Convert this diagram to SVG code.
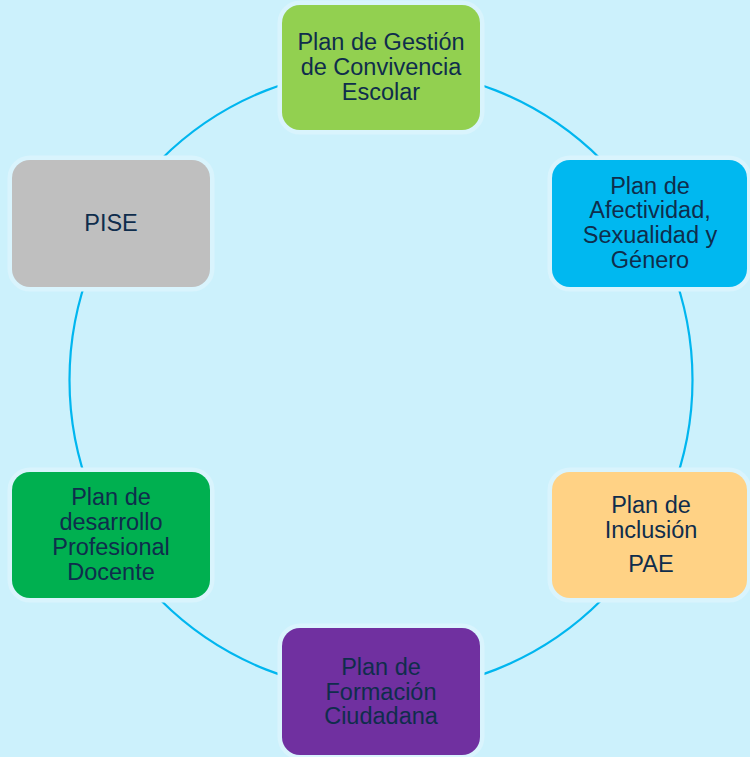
<svg xmlns="http://www.w3.org/2000/svg" width="750" height="757" viewBox="0 0 750 757">
<style>
.halo{stroke:#d9f4fd;stroke-width:9;paint-order:stroke}
.t{font-family:"Liberation Sans",Arial,sans-serif;font-size:23.5px;fill:#0f2d4c;text-anchor:middle}
</style>
<rect x="0" y="0" width="750" height="757" fill="#ccf1fc"/>
<g id="connectors">
<circle cx="381" cy="380" r="311.5" fill="none" stroke="#00b6ef" stroke-width="2.2"/>
</g>
<g id="convivencia">
<rect class="halo" x="282" y="5" width="198" height="125" rx="18" fill="#92d050"/>
<text class="t" x="381" y="50">Plan de Gestión</text>
<text class="t" x="381" y="75">de Convivencia</text>
<text class="t" x="381" y="100">Escolar</text>
</g>
<g id="afectividad">
<rect class="halo" x="552" y="160" width="195" height="127" rx="18" fill="#00b8f0"/>
<text class="t" x="650" y="194">Plan de</text>
<text class="t" x="650" y="218">Afectividad,</text>
<text class="t" x="650" y="243">Sexualidad y</text>
<text class="t" x="650" y="268">Género</text>
</g>
<g id="pise">
<rect class="halo" x="12" y="160" width="198" height="127" rx="18" fill="#bfbfbf"/>
<text class="t" x="111" y="231">PISE</text>
</g>
<g id="inclusion">
<rect class="halo" x="552" y="472" width="195" height="126" rx="18" fill="#ffd285"/>
<text class="t" x="651" y="513">Plan de</text>
<text class="t" x="651" y="538">Inclusión</text>
<text class="t" x="651" y="572">PAE</text>
</g>
<g id="docente">
<rect class="halo" x="12" y="472" width="198" height="126" rx="18" fill="#00b050"/>
<text class="t" x="111" y="505">Plan de</text>
<text class="t" x="111" y="530">desarrollo</text>
<text class="t" x="111" y="555">Profesional</text>
<text class="t" x="111" y="580">Docente</text>
</g>
<g id="ciudadana">
<rect class="halo" x="282" y="628" width="198" height="127" rx="18" fill="#7030a0"/>
<text class="t" x="381" y="675">Plan de</text>
<text class="t" x="381" y="700">Formación</text>
<text class="t" x="381" y="724">Ciudadana</text>
</g>
</svg>
